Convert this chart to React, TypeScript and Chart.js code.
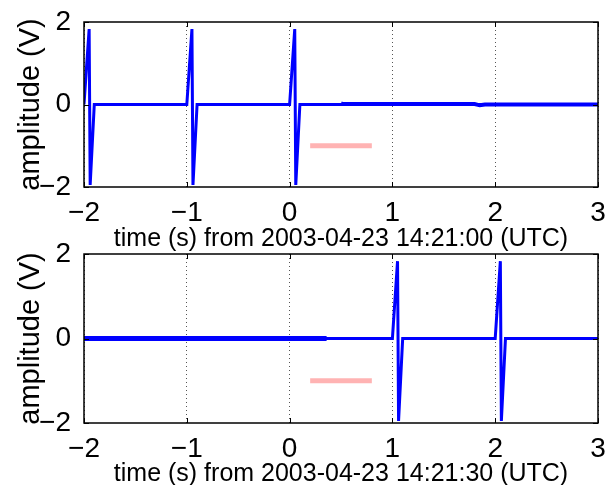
import React, { useEffect, useRef } from "react";
import { Chart, registerables } from "chart.js";

Chart.register(...registerables);

// ---- data ----
const xTicks = [-2, -1, 0, 1, 2, 3];
const yTicks = [-2, 0, 2];

const topTimes = [-2, -1.95, -1.94, -1.9, -1.0, -0.95, -0.94, -0.9, 0.0, 0.05, 0.06, 0.1, 3.0];
const topValues = [0, 1.83, -1.95, 0, 0, 1.83, -1.95, 0, 0, 1.83, -1.95, 0, 0];
const topNoiseTimes = [0.5, 0.52, 1.8, 1.85, 1.9, 3.0];
const topNoiseValues = [0.03, 0.01, 0.01, -0.02, 0.0, 0.0];

const bottomTimes = [-2, 1.0, 1.05, 1.06, 1.1, 2.0, 2.05, 2.06, 2.1, 3.0];
const bottomValues = [0, 0, 1.83, -1.95, 0, 0, 1.83, -1.95, 0, 0];
const bottomNoiseTimes = [-2, 0.36];
const bottomNoiseValues = [0, 0];

const markerTimes = [0.2, 0.8];
const markerValues = [-1, -1];

const yLabel = "amplitude (V)";
const topXLabel = "time (s) from 2003-04-23 14:21:00 (UTC)";
const bottomXLabel = "time (s) from 2003-04-23 14:21:30 (UTC)";

const FONT = "'Liberation Sans', Arial, Helvetica, sans-serif";

const fmt = (v: number) => (v < 0 ? "\u2212" + Math.abs(v) : String(v));
const pts = (xs: number[], ys: number[]) => xs.map((x, i) => ({ x, y: ys[i] }));

const framePlugin = {
  id: "frame",
  afterDraw(chart: any) {
    const { ctx, chartArea: a, scales } = chart;
    ctx.save();
    ctx.strokeStyle = "#000";
    ctx.lineWidth = 1;
    ctx.beginPath();
    for (const t of xTicks) {
      const px = Math.round(scales.x.getPixelForValue(t)) + 0.5;
      ctx.moveTo(px, a.bottom);
      ctx.lineTo(px, a.bottom - 5);
      ctx.moveTo(px, a.top);
      ctx.lineTo(px, a.top + 5);
    }
    for (const t of yTicks) {
      const py = Math.round(scales.y.getPixelForValue(t)) + 0.5;
      ctx.moveTo(a.left, py);
      ctx.lineTo(a.left + 5, py);
      ctx.moveTo(a.right, py);
      ctx.lineTo(a.right - 5, py);
    }
    ctx.stroke();
    ctx.lineWidth = 1.5;
    ctx.strokeRect(a.left, a.top, a.right - a.left, a.bottom - a.top);
    ctx.restore();
  },
};

function makeConfig(
  times: number[],
  values: number[],
  noiseTimes: number[],
  noiseValues: number[],
  noiseWidth: number,
  xLabel: string,
  axisHeight: number
): any {
  return {
    type: "line",
    data: {
      datasets: [
        {
          data: pts(markerTimes, markerValues),
          borderColor: "#ffb3b3",
          borderWidth: 5,
          borderCapStyle: "butt",
          pointRadius: 0,
          tension: 0,
        },
        {
          data: pts(times, values),
          borderColor: "#0000ff",
          borderWidth: 3,
          pointRadius: 0,
          tension: 0,
        },
        {
          data: pts(noiseTimes, noiseValues),
          borderColor: "#0000ff",
          borderWidth: noiseWidth,
          pointRadius: 0,
          tension: 0,
        },
      ],
    },
    options: {
      animation: false,
      responsive: false,
      devicePixelRatio: 1,
      layout: { padding: { top: 22, left: 0, right: 7, bottom: 0 } },
      plugins: { legend: { display: false }, tooltip: { enabled: false } },
      scales: {
        x: {
          type: "linear",
          min: -2,
          max: 3,
          afterBuildTicks: (s: any) => {
            s.ticks = xTicks.map((v) => ({ value: v }));
          },
          afterFit: (s: any) => {
            s.height = axisHeight;
            s.paddingLeft = 0;
            s.paddingRight = 0;
          },
          ticks: {
            callback: (v: any) => fmt(Number(v)),
            color: "#000",
            font: { family: FONT, size: 28 },
            padding: 9,
            maxRotation: 0,
            autoSkip: false,
          },
          grid: {
            drawTicks: false,
            color: "#555",
            lineWidth: 1,
          },
          border: { display: false, dash: [1, 3] },
          title: {
            display: true,
            text: xLabel,
            color: "#000",
            font: { family: FONT, size: 25, lineHeight: 1 },
            padding: { top: 0, bottom: 0 },
          },
        },
        y: {
          type: "linear",
          min: -2,
          max: 2,
          afterBuildTicks: (s: any) => {
            s.ticks = yTicks.map((v) => ({ value: v }));
          },
          afterFit: (s: any) => {
            s.width = 84;
            s.paddingTop = 0;
            s.paddingBottom = 0;
          },
          ticks: {
            callback: (v: any) => fmt(Number(v)),
            color: "#000",
            font: { family: FONT, size: 28 },
            padding: 5,
          },
          grid: { display: false },
          border: { display: false },
          title: {
            display: true,
            text: yLabel,
            color: "#000",
            font: { family: FONT, size: 29, lineHeight: 1 },
            padding: { top: 16, bottom: 0 },
          },
        },
      },
    },
    plugins: [framePlugin],
  };
}

function Panel(props: {
  top: number;
  height: number;
  times: number[];
  values: number[];
  noiseTimes: number[];
  noiseValues: number[];
  noiseWidth: number;
  xLabel: string;
  axisHeight: number;
}) {
  const ref = useRef<HTMLCanvasElement | null>(null);
  useEffect(() => {
    if (!ref.current) return;
    const cfg = makeConfig(
      props.times,
      props.values,
      props.noiseTimes,
      props.noiseValues,
      props.noiseWidth,
      props.xLabel,
      props.axisHeight
    );
    cfg.options.scales.x.grid.borderDash = [1, 3];
    const chart = new Chart(ref.current, cfg);
    return () => chart.destroy();
  }, []);
  return (
    <canvas
      ref={ref}
      width={605}
      height={props.height}
      style={{ position: "absolute", left: 0, top: props.top, width: 605, height: props.height }}
    />
  );
}

export default function App() {
  return (
    <div
      style={{
        position: "fixed",
        left: 0,
        top: 0,
        width: 605,
        height: 485,
        background: "#fff",
        overflow: "hidden",
      }}
    >
      <Panel
        top={0}
        height={252}
        times={topTimes}
        values={topValues}
        noiseTimes={topNoiseTimes}
        noiseValues={topNoiseValues}
        noiseWidth={4}
        xLabel={topXLabel}
        axisHeight={65}
      />
      <Panel
        top={232}
        height={255}
        times={bottomTimes}
        values={bottomValues}
        noiseTimes={bottomNoiseTimes}
        noiseValues={bottomNoiseValues}
        noiseWidth={5}
        xLabel={bottomXLabel}
        axisHeight={64}
      />
    </div>
  );
}
